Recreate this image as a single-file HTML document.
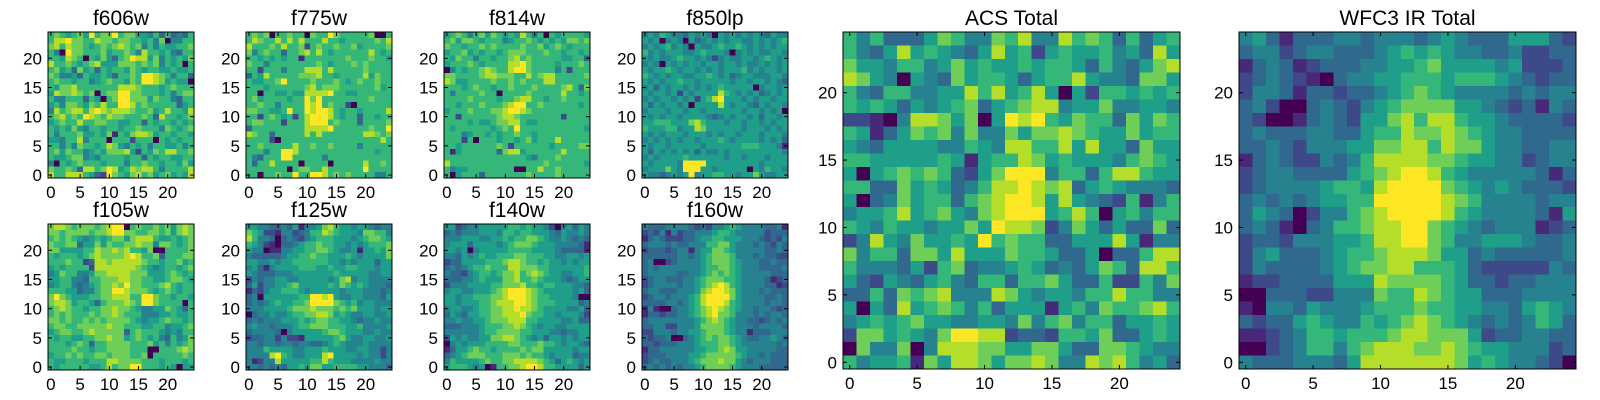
<!DOCTYPE html>
<html><head><meta charset="utf-8">
<style>
html,body{margin:0;padding:0;background:#fff;}
svg{display:block;font-family:"Liberation Sans",sans-serif;}
</style></head>
<body>
<svg id="fig" width="1600" height="400" viewBox="0 0 1600 400" xmlns="http://www.w3.org/2000/svg"></svg>
<script>
const tickValues = [0,5,10,15,20];
const tickLabels = ["0","5","10","15","20"];
const panelTitles = ["f606w","f775w","f814w","f850lp","f105w","f125w","f140w","f160w","ACS Total","WFC3 IR Total"];
// rows listed top (y=24) to bottom (y=0), values 0-9 colour levels
const f606w = ["6765675967796775546363436","6889776687767766564704466","7868776567678767464655667","6409776667566764866564366","6658760657536798857465657","8667656785557776767465606","6756375636566576566556556","7644536556536676998764663","6766566456766576998756550","6577866666668887666567666","5877876706779977666564677","6446663650679977757664366","5647765768669986766666356","4867886898788876675686658","6786769876877666763866567","5676686677665566365665656","6565754665665667666476567","6466675565716578875665665","5546684666066626660656566","6646476656875465646655646","6757664565777852657688667","6556774546666566365665566","4065676665666466766566575","7667638867985687886466668","8668886532976578675675658"];
const f775w = ["6767066766076697666667006","6876686868666866566666768","8666768667267667667566667","7467663667868656666668656","6656565661666666676667665","7664666666667656667676666","6626664666888686666676666","3658666667778665666685766","6556679666676667656766766","6665666666786777666666756","6606655655888896655666666","6756666566979666666667666","6676646666989676620666666","7766556966989986566566668","6626765626899986566366566","6776662666899967666366667","3666666666888896666667669","8766366666868666666688767","6666206666666666666666686","6676666686676676666466666","6664669986666666666666566","6436669966666466666666666","6366866660666606666686676","6666666067766866666696666","6606676696699867676666446"];
const f814w = ["5676467576565864606566665","6757765666456676565657767","7665667676666766756765666","5667565665677766676656656","6576646656678676666655663","5666765666688976666566676","0465667876689976666462666","7766667887776686788666667","8755666676676766688666666","6665676656676667666678637","6466667660666676666686656","6666766665667886656676666","6656667666789966766666656","5666766677899876666666666","6626666667887666666626666","6666565567788655666666666","6566666656769666666666665","6664566565667665666666666","6662606665665675666866666","6656666667626666665666677","6156666663788566666686666","6666666666666654666766666","8666666666666666676666665","6455666666660066866766666","6056663666666676666766666"];
const f850lp = ["4546544354540545454543544","5450454053454545544545456","4545645405445655654545455","6454555445655540454544554","5454456554542454455456545","4540545455455455454454545","5455654554545455564545545","6545455445565453455444554","5454556554555554554554543","4535455454545655555045545","5455452545555865454534545","4545545452568955545455455","5354554505555854554354554","4555455455455555545545450","5454554555543454554535545","5566655578655545545545455","6555664558755555545554545","5454555455545455455545554","4545454554555654555545453","5455455555455555566655541","5354545453544545555555554","4545555655555545545554555","5455554999955555555545555","4555754999554555550546554","5443454594556655455754455"];
const f105w = ["7887677767899067667675787","7767777677899776677675787","6767654565677578886556567","7667735575766778774776567","7755556687787866570066667","6566656787777898667366677","6667662388788888766566756","5656666288888887654566567","4576644577888877755567656","5566443667778877665567765","4566434567787977666786566","6665534467799877765676566","7976555667788866997665665","7887566536777876997666606","6787665667787765445576536","6767666767787666444556556","7767667676777765455676656","6776677777877666556645567","5677667877777367666545466","6566556677877567656436457","6665676366777766675646567","6666766566777766600666787","5667676677677766706666676","6556665666887777666566656","6566666556867799666565055"];
const f125w = ["5544334351445786554554344","7652214423466876555477664","8644303432456665554567765","6542103345667665545456667","5440114455667765445155657","4333334556676655565455557","5544545566666655454555355","4531455556665565566555455","5433344455555556555554455","2434455445555545784554444","3524455675555565765654443","1324556665455555455544434","3405555556699895445544435","3434565566799997656455444","4445555677787776767555455","0344544566778875654455445","3434445556567766554344544","4544344456677766655644445","3444430455555677655544544","2334424221555556754455445","4434434434433456544454444","4446555544555655544554424","4444896544555895555454424","4124485555566865554444544","4434343556577556666554443"];
const f140w = ["5523445555566565542045354","3434445554665665554354454","4445554455656677654454343","4555355554567776555444431","5545045555566665555433331","4435456556667766655445545","2335555666788766565545455","3434566766688777665555556","4332456656778678765544556","3334456555778667655543455","2444555566777866566555443","4554455567899987655555453","5545566677899987665555400","5545556678889987666555534","4554456677889887655554453","3543556677888976655455542","4454455677788866555544533","3334445666778765455445555","4444445667777665554434455","2545445577887654535545455","0454555666677666766545543","1355676656666767755555455","3456777666777676654555344","4655556766778888765356545","5666545016677899866555535"];
const f160w = ["4333444432324456544443341","2324142334445665444442333","1343222334556655544432324","3444343344466775444343243","2333234414557765444443343","3333334434567776444343322","3400234444567776544433433","3434444444566776544433334","3444443344567676544444333","2344333445677766544443123","2344443445678986544443312","3443334445789987544434333","2344344456899997544443343","3333443456899986544443443","1410034456789876544344323","1332334456789776444343443","3444444445678765443323434","3344224445777765444344443","2244434455677765441333444","3233400345676776543344543","3323334445666776544444434","1334444445566787554444433","2333444455677777654434333","2343344456777877543444333","3434343445677776544433333"];
const acsTotal = ["6463335764476844867636356","6435856543585625655645385","7554664575655656653643578","8754054375665356685443775","6436644558685685052665656","6565354567356788455744554","2210488757059896576637576","6513576747447577876557566","5435555446548866858553755","6655555651566875655546765","5056767632579994663688655","6633756534688987835654443","5034756636789985854326146","4556856754789995686056466","6546554557598872475353373","2485475565967663355585144","7466377585557665335033688","6444352673445653435763886","5325435643663667533622647","3363767844487545546686644","5053856764635551564766786","4565675544554746746635565","2775654799882332665733565","0744704888775577533776544","6455617588757787448786453"];
const wfc3Total = ["4531333443444345433355532","3442344333456565443342233","1343123334455675555452223","2343210344556665666543233","2443133233456765444434344","3420034324567777554323143","3200134325578688655433332","3433344335668778765443333","3343244455778868775443344","1343224346888877655442344","2344333356789986544444313","2344445665899997654543332","3434345566999998764444344","3543024467899998654444315","3431034667889976543444123","2332444556889976445554334","2453334566788875534333334","2433334567788666532222243","1223333555877776533233444","0033322444766876553334444","1044354445666766554435654","3233565446567876543434653","1123466566678877752334433","0023466467888778765544423","4333444358888888756544320"];
const panelData = [f606w,f775w,f814w,f850lp,f105w,f125w,f140w,f160w,acsTotal,wfc3Total];
const panelNames = ["f606w","f775w","f814w","f850lp","f105w","f125w","f140w","f160w","acs-total","wfc3-ir-total"];
</script>
<script>
const NS = "http://www.w3.org/2000/svg";
const svg = document.getElementById('fig');
const viridis = ["#440154","#482878","#3e4989","#31688e","#26828e","#1f9e89","#35b779","#6ece58","#b5de2b","#fde725"];
const layout = [
  [48,32,146],[246,32,146],[444,32,146],[642,32,146],
  [48,224,146],[246,224,146],[444,224,146],[642,224,146],
  [843,32,337],[1239,32,337]
];
function el(tag, attrs, parent){
  const e = document.createElementNS(NS, tag);
  for (const k in attrs) e.setAttribute(k, attrs[k]);
  parent.appendChild(e);
  return e;
}
panelData.forEach((rows, p) => {
  const [x0,y0,S] = layout[p];
  const n = rows.length;
  const cell = S / n;
  const sx = v => x0 + (v + 0.5) * cell;
  const sy = v => y0 + S - (v + 0.5) * cell;
  const g = el('g', {}, svg);
  
  
  const hm = el('g', {'shape-rendering':'crispEdges'}, g);
  
  
  rows.forEach((row, r) => {
    const yv = n - 1 - r;
    for (let c = 0; c < row.length; c++) {
      const lv = +row[c];
      const rc = el('rect', {x: (sx(c) - cell/2).toFixed(2), y: (sy(yv) - cell/2).toFixed(2),
        width: (cell + 0.6).toFixed(2), height: (cell + 0.6).toFixed(2), fill: viridis[lv]}, hm);
      
      
    }
  });
  const fr = el('rect', {x:x0, y:y0, width:S, height:S, fill:'none', stroke:'#000', 'stroke-width':1}, g);
  
  
  const tl = 4;
  tickValues.forEach((t, i) => {
    const px = sx(t), py = sy(t);
    el('line', {x1:px, x2:px, y1:y0+S, y2:y0+S-tl, stroke:'#000'}, g);
    el('line', {x1:px, x2:px, y1:y0, y2:y0+tl, stroke:'#000'}, g);
    el('line', {x1:x0, x2:x0+tl, y1:py, y2:py, stroke:'#000'}, g);
    el('line', {x1:x0+S, x2:x0+S-tl, y1:py, y2:py, stroke:'#000'}, g);
    const xt = el('text', {x:px, y:y0+S+20, 'text-anchor':'middle', 'font-size':17}, g);
    xt.textContent = tickLabels[i];
    
    
    const yt = el('text', {x:x0-6, y:py+6, 'text-anchor':'end', 'font-size':17}, g);
    yt.textContent = tickLabels[i];
    
    
  });
  const tt = el('text', {x:x0+S/2, y:y0-7, 'text-anchor':'middle', 'font-size':21}, g);
  tt.textContent = panelTitles[p];
  
  
});
</script>
</body></html>
